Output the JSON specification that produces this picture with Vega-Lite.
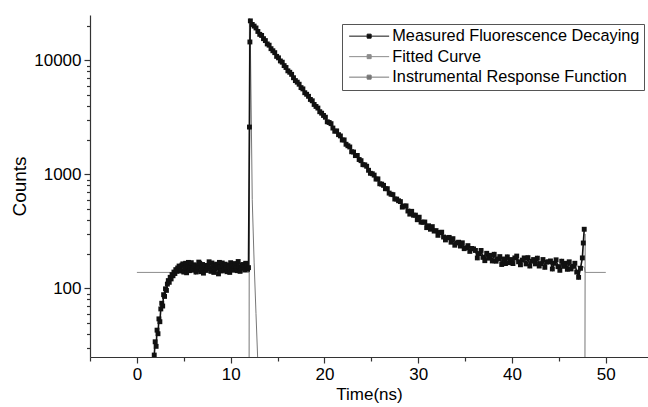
{
  "$schema": "https://vega.github.io/schema/vega-lite/v6.json",
  "autosize": {"type": "none"},
  "padding": {"left": 90, "top": 15, "right": 0, "bottom": 50},
  "width": 558,
  "height": 342,
  "background": "white",
  "config": {
    "view": {"stroke": null},
    "font": "Liberation Sans",
    "axis": {"grid": false, "domainColor": "#333", "domainWidth": 1.2, "tickColor": "#333", "tickWidth": 1.2, "labelColor": "#000", "titleColor": "#000", "labelFont": "Liberation Sans", "titleFont": "Liberation Sans", "titleFontWeight": "normal"}
  },
  "datasets": {
    "measured": [
      {"t":1.85,"c":26},{"t":1.95,"c":34},{"t":2.05,"c":31},{"t":2.15,"c":43},{"t":2.25,"c":40},{"t":2.35,"c":54},{"t":2.45,"c":51},{"t":2.55,"c":66},{"t":2.65,"c":74},{"t":2.75,"c":70},{"t":2.85,"c":88},{"t":2.95,"c":85},{"t":3.05,"c":99},{"t":3.15,"c":96},{"t":3.25,"c":109},{"t":3.35,"c":117},{"t":3.45,"c":113},{"t":3.55,"c":125},{"t":3.65,"c":121},{"t":3.75,"c":132},{"t":3.85,"c":129},{"t":3.95,"c":139},{"t":4.05,"c":135},{"t":4.15,"c":146},{"t":4.25,"c":141},{"t":4.35,"c":151},
      {"t":4.5,"c":157},{"t":4.6,"c":148},{"t":4.7,"c":142},{"t":4.8,"c":160},{"t":4.9,"c":164},{"t":5.0,"c":139},{"t":5.1,"c":150},{"t":5.2,"c":166},{"t":5.3,"c":137},{"t":5.4,"c":154},{"t":5.5,"c":169},{"t":5.6,"c":143},{"t":5.7,"c":152},{"t":5.8,"c":168},{"t":5.9,"c":145},{"t":6.0,"c":151},{"t":6.1,"c":161},{"t":6.2,"c":158},{"t":6.3,"c":139},{"t":6.4,"c":146},{"t":6.5,"c":155},{"t":6.6,"c":170},{"t":6.7,"c":166},{"t":6.8,"c":140},{"t":6.9,"c":148},{"t":7.0,"c":162},{"t":7.1,"c":136},{"t":7.2,"c":153},{"t":7.3,"c":159},{"t":7.4,"c":144},{"t":7.5,"c":151},{"t":7.6,"c":158},{"t":7.7,"c":171},{"t":7.8,"c":149},{"t":7.9,"c":141},{"t":8.0,"c":167},{"t":8.1,"c":156},{"t":8.2,"c":138},{"t":8.3,"c":147},{"t":8.4,"c":160},{"t":8.5,"c":163},{"t":8.6,"c":152},{"t":8.7,"c":134},{"t":8.8,"c":169},{"t":8.9,"c":154},{"t":9.0,"c":142},{"t":9.1,"c":167},{"t":9.2,"c":156},{"t":9.3,"c":144},{"t":9.4,"c":163},{"t":9.5,"c":150},{"t":9.6,"c":140},{"t":9.7,"c":160},{"t":9.8,"c":153},{"t":9.9,"c":138},{"t":10.0,"c":168},{"t":10.1,"c":158},{"t":10.2,"c":145},{"t":10.3,"c":148},{"t":10.4,"c":157},{"t":10.5,"c":165},{"t":10.6,"c":150},{"t":10.7,"c":143},{"t":10.8,"c":172},{"t":10.9,"c":155},{"t":11.0,"c":141},{"t":11.1,"c":150},{"t":11.2,"c":159},{"t":11.3,"c":162},{"t":11.4,"c":153},{"t":11.5,"c":146},{"t":11.6,"c":166},{"t":11.7,"c":157},{"t":11.8,"c":147},{"t":11.9,"c":152},
      {"t":12.0,"c":2600},{"t":12.05,"c":14500},
      {"t":12.1,"c":22198},{"t":12.3,"c":20652},{"t":12.5,"c":19982},{"t":12.7,"c":19242},{"t":12.9,"c":17933},{"t":13.1,"c":16911},{"t":13.3,"c":16536},{"t":13.5,"c":15503},{"t":13.7,"c":14911},{"t":13.9,"c":13938},{"t":14.1,"c":13587},{"t":14.3,"c":12664},{"t":14.5,"c":12146},{"t":14.7,"c":11682},{"t":14.9,"c":10840},{"t":15.1,"c":10523},{"t":15.3,"c":9883},{"t":15.5,"c":9636},{"t":15.7,"c":8998},{"t":15.9,"c":8658},
      {"t":16.1,"c":8096},{"t":16.3,"c":7861},{"t":16.5,"c":7541},{"t":16.7,"c":7043},{"t":16.9,"c":6647},{"t":17.1,"c":6436},{"t":17.3,"c":6176},{"t":17.5,"c":5769},{"t":17.7,"c":5620},{"t":17.9,"c":5204},{"t":18.1,"c":5041},{"t":18.3,"c":4838},{"t":18.5,"c":4542},{"t":18.7,"c":4419},{"t":18.9,"c":4106},{"t":19.1,"c":3943},{"t":19.3,"c":3815},{"t":19.5,"c":3545},{"t":19.7,"c":3441},{"t":19.9,"c":3287},
      {"t":20.1,"c":3172},{"t":20.3,"c":2892},{"t":20.5,"c":2852},{"t":20.7,"c":2785},{"t":20.9,"c":2549},{"t":21.1,"c":2388},{"t":21.3,"c":2406},{"t":21.5,"c":2230},{"t":21.7,"c":2173},{"t":21.9,"c":2002},{"t":22.1,"c":2006},{"t":22.3,"c":1837},{"t":22.5,"c":1782},{"t":22.7,"c":1739},{"t":22.9,"c":1579},{"t":23.1,"c":1570},{"t":23.3,"c":1461},{"t":23.5,"c":1466},{"t":23.7,"c":1350},{"t":23.9,"c":1319},
      {"t":24.1,"c":1217},{"t":24.3,"c":1212},{"t":24.5,"c":1178},{"t":24.7,"c":1086},{"t":24.9,"c":1022},{"t":25.1,"c":1013},{"t":25.3,"c":985},{"t":25.5,"c":909},{"t":25.7,"c":913},{"t":25.9,"c":827},{"t":26.1,"c":821},{"t":26.3,"c":801},{"t":26.5,"c":748},{"t":26.7,"c":749},{"t":26.9,"c":685},{"t":27.1,"c":669},{"t":27.3,"c":664},{"t":27.5,"c":608},{"t":27.7,"c":607},{"t":27.9,"c":587},
      {"t":28.1,"c":577},{"t":28.3,"c":516},{"t":28.5,"c":527},{"t":28.7,"c":529},{"t":28.9,"c":477},{"t":29.1,"c":448},{"t":29.3,"c":474},{"t":29.5,"c":438},{"t":29.7,"c":439},{"t":29.9,"c":400},{"t":30.1,"c":421},{"t":30.3,"c":381},{"t":30.5,"c":380},{"t":30.7,"c":382},{"t":30.9,"c":341},{"t":31.1,"c":354},{"t":31.3,"c":330},{"t":31.5,"c":348},{"t":31.7,"c":318},{"t":31.9,"c":321},
      {"t":32.1,"c":292},{"t":32.3,"c":309},{"t":32.5,"c":311},{"t":32.7,"c":282},{"t":32.9,"c":266},{"t":33.1,"c":278},{"t":33.3,"c":280},{"t":33.5,"c":254},{"t":33.7,"c":273},{"t":33.9,"c":239},{"t":34.1,"c":250},{"t":34.3,"c":254},{"t":34.5,"c":235},{"t":34.7,"c":251},{"t":34.9,"c":223},{"t":35.1,"c":227},{"t":35.3,"c":237},{"t":35.5,"c":211},{"t":35.7,"c":224},{"t":35.9,"c":222},
      {"t":36.1,"c":215},{"t":36.3,"c":185},{"t":36.5,"c":202},{"t":36.7,"c":215},{"t":36.9,"c":187},{"t":37.1,"c":175},{"t":37.3,"c":203},{"t":37.5,"c":184},{"t":37.7,"c":195},{"t":37.9,"c":174},{"t":38.1,"c":199},{"t":38.3,"c":173},{"t":38.5,"c":181},{"t":38.7,"c":190},{"t":38.9,"c":162},{"t":39.1,"c":181},{"t":39.3,"c":165},{"t":39.5,"c":189},{"t":39.7,"c":168},{"t":39.9,"c":179},
      {"t":40.1,"c":165},{"t":40.3,"c":185},{"t":40.5,"c":192},{"t":40.7,"c":171},{"t":40.9,"c":161},{"t":41.1,"c":177},{"t":41.3,"c":185},{"t":41.5,"c":164},{"t":41.7,"c":186},{"t":41.9,"c":157},{"t":42.1,"c":173},{"t":42.3,"c":179},{"t":42.5,"c":164},{"t":42.7,"c":184},{"t":42.9,"c":157},{"t":43.1,"c":165},{"t":43.3,"c":179},{"t":43.5,"c":153},{"t":43.7,"c":170},{"t":43.9,"c":171},
      {"t":44.1,"c":174},{"t":44.3,"c":148},{"t":44.5,"c":166},{"t":44.7,"c":178},{"t":44.9,"c":155},{"t":45.1,"c":144},{"t":45.3,"c":173},{"t":45.5,"c":156},{"t":45.7,"c":166},{"t":45.9,"c":147},{"t":46.1,"c":171},{"t":46.3,"c":148},{"t":46.5,"c":156},{"t":46.7,"c":166},{"t":46.9,"c":139},{"t":47.1,"c":125},{"t":47.3,"c":150},{"t":47.5,"c":185},{"t":47.6,"c":250},{"t":47.7,"c":330}
    ],
    "fitted": [
      {"t":0,"c":138},{"t":11.95,"c":138},{"t":12.1,"c":22000},{"t":13.1,"c":17169},{"t":14.1,"c":13406},{"t":15.1,"c":10476},{"t":16.1,"c":8194},{"t":17.1,"c":6417},{"t":18.1,"c":5033},{"t":19.1,"c":3955},{"t":20.1,"c":3116},{"t":21.1,"c":2462},{"t":22.1,"c":1953},{"t":23.1,"c":1556},{"t":24.1,"c":1247},{"t":25.1,"c":1007},{"t":26.1,"c":819},{"t":27.1,"c":673},{"t":28.1,"c":560},{"t":29.1,"c":472},{"t":30.1,"c":403},{"t":31.1,"c":349},{"t":32.1,"c":307},{"t":33.1,"c":275},{"t":34.1,"c":249},{"t":35.1,"c":230},{"t":36.1,"c":210},{"t":37.1,"c":198},{"t":38.1,"c":190},{"t":39.1,"c":182},{"t":40.1,"c":175},{"t":41.1,"c":172},{"t":42.1,"c":170},{"t":43.1,"c":168},{"t":44.1,"c":165},{"t":45.1,"c":162},{"t":46.1,"c":159},{"t":47.1,"c":156},{"t":47.7,"c":154},{"t":47.8,"c":138},{"t":50,"c":138}
    ],
    "irf": [
      {"t":0,"c":1},{"t":11.95,"c":1},{"t":12.0,"c":21000},{"t":12.1,"c":15000},{"t":12.2,"c":3000},{"t":12.3,"c":600},{"t":12.5,"c":170},{"t":12.7,"c":60},{"t":12.9,"c":22},{"t":13.0,"c":5},{"t":47.75,"c":1},{"t":47.8,"c":300}
    ]
  },
  "encoding": {
    "x": {
      "field": "t", "type": "quantitative",
      "scale": {"domain": [-5, 54.5], "nice": false, "zero": false},
      "axis": {
        "title": "Time(ns)", "titleFontSize": 17, "titlePadding": 4,
        "values": [-5,0,5,10,15,20,25,30,35,40,45,50],
        "labelExpr": "datum.value % 10 === 0 ? format(datum.value, 'd') : ''",
        "labelFontSize": 17, "labelPadding": 3, "labelOverlap": false, "labelFlush": false,
        "tickSize": {"condition": {"test": "datum.value % 10 === 0", "value": 6}, "value": 4}
      }
    },
    "y": {
      "field": "c", "type": "quantitative",
      "scale": {"type": "log", "domain": [25, 25000], "nice": false},
      "axis": {
        "title": "Counts", "titleFontSize": 19, "titlePadding": 4,
        "values": [30,40,50,60,70,80,90,100,200,300,400,500,600,700,800,900,1000,2000,3000,4000,5000,6000,7000,8000,9000,10000,20000],
        "labelExpr": "(datum.value == 100 || datum.value == 1000 || datum.value == 10000) ? format(datum.value, 'd') : ''",
        "labelFontSize": 17, "labelPadding": 3, "labelOverlap": false, "labelFlush": false,
        "tickSize": {"condition": {"test": "datum.value == 100 || datum.value == 1000 || datum.value == 10000", "value": 6}, "value": 3.5}
      }
    }
  },
  "layer": [
    {
      "data": {"name": "fitted"},
      "mark": {"type": "line", "strokeWidth": 1, "clip": true},
      "encoding": {
        "color": {
          "datum": "Fitted Curve",
          "scale": {"domain": ["Measured Fluorescence Decaying", "Fitted Curve", "Instrumental Response Function"], "range": ["#111111", "#8c8c8c", "#777777"]},
          "legend": {
            "title": null, "orient": "none", "legendX": 252, "legendY": 9,
            "strokeColor": "#555", "fillColor": "white", "padding": 4, "cornerRadius": 0,
            "labelFont": "Liberation Sans", "labelFontSize": 16.3, "labelColor": "#000", "labelLimit": 400,
            "symbolType": "M-1,0H7M2.6,-0.4H3.4V0.4H2.6Z", "symbolSize": 100, "symbolStrokeWidth": 1,
            "labelOffset": 30, "rowPadding": 3.5,
            "encode": {"symbols": {"update": {"fill": {"scale": "color", "field": "value"}, "stroke": {"scale": "color", "field": "value"}}}}
          }
        }
      }
    },
    {
      "data": {"name": "irf"},
      "mark": {"type": "line", "strokeWidth": 1, "clip": true},
      "encoding": {"color": {"datum": "Instrumental Response Function"}}
    },
    {
      "data": {"name": "measured"},
      "mark": {"type": "line", "strokeWidth": 1.6, "clip": true},
      "encoding": {"color": {"datum": "Measured Fluorescence Decaying"}}
    },
    {
      "data": {"name": "measured"},
      "mark": {"type": "point", "shape": "square", "filled": true, "size": 24, "opacity": 1, "clip": true},
      "encoding": {"color": {"datum": "Measured Fluorescence Decaying"}}
    }
  ]
}
